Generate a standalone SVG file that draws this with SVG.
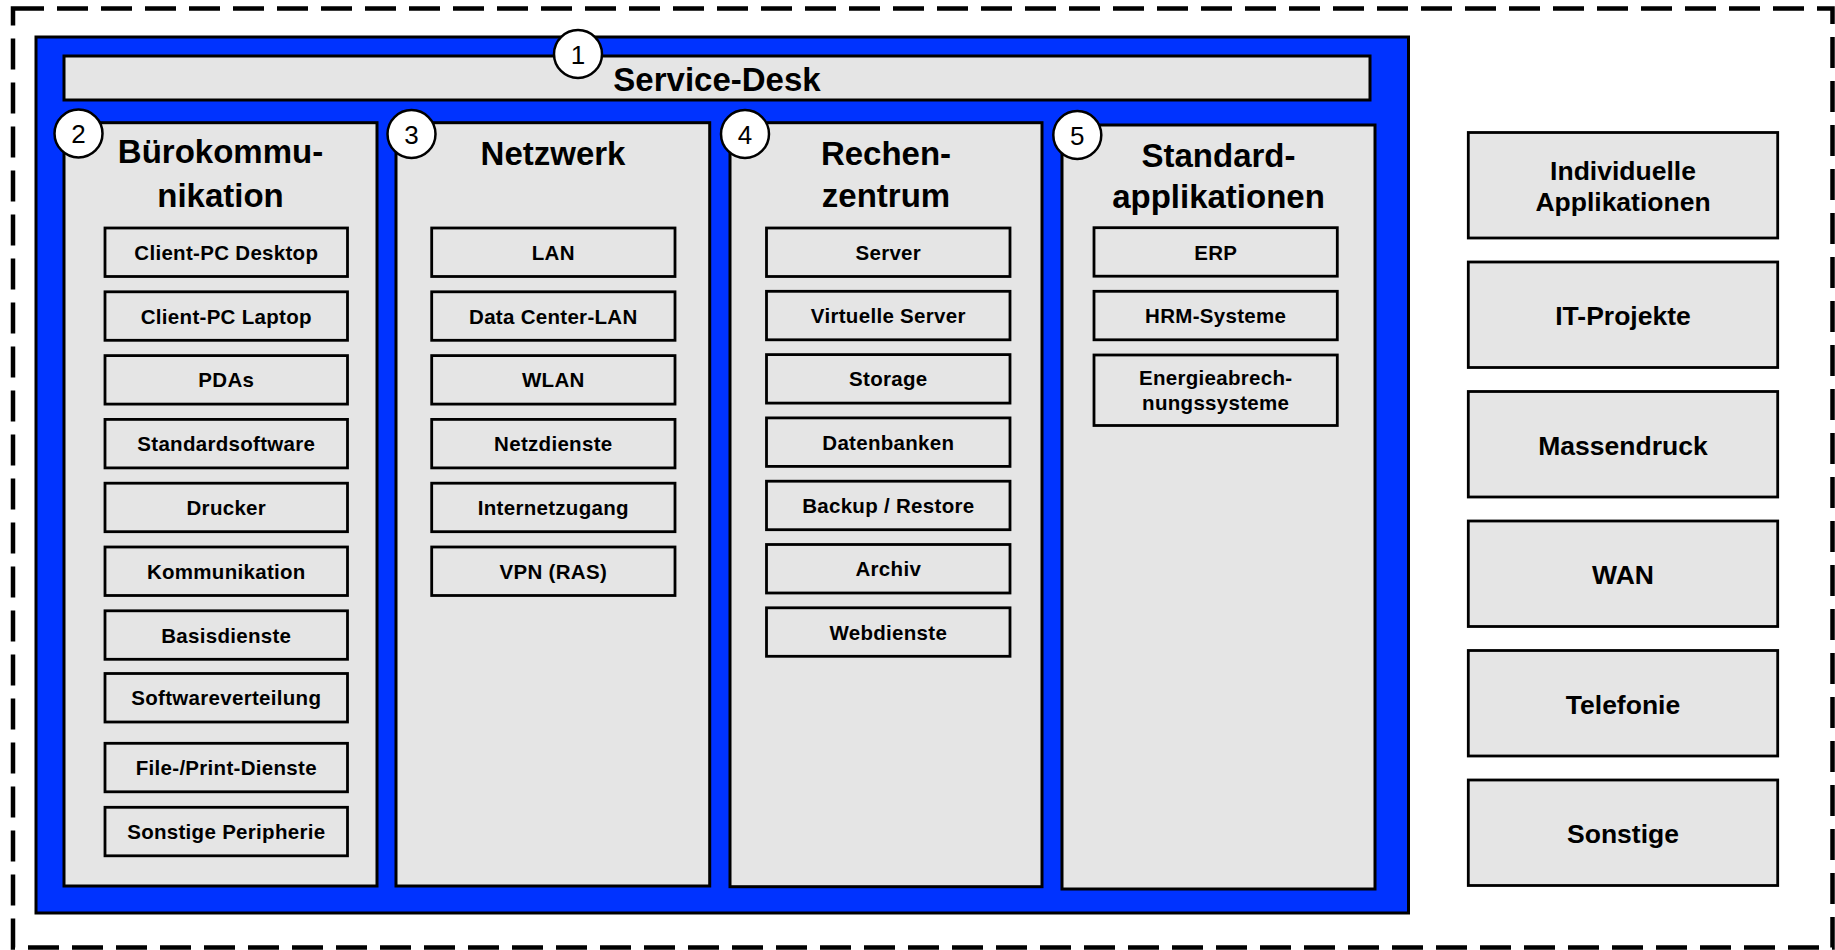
<svg xmlns="http://www.w3.org/2000/svg" width="1835" height="950" viewBox="0 0 1835 950">
  <style>
    .frame { fill: none; stroke: #000; stroke-width: 4.5; stroke-dasharray: 31 13; }
    .core { fill: #0033ff; stroke: #000; stroke-width: 3; }
    .panel { fill: #e5e5e5; stroke: #000; stroke-width: 3; }
    .item { fill: #e5e5e5; stroke: #000; stroke-width: 2.8; }
    .badge { fill: #fff; stroke: #000; stroke-width: 2.5; }
    text { font-family: "Liberation Sans", Arial, Helvetica, sans-serif; fill: #000; text-anchor: middle; }
    .title { font-size: 33px; font-weight: bold; }
    .label { font-size: 20.5px; font-weight: bold; letter-spacing: 0.3px; }
    .side { font-size: 26.5px; font-weight: bold; }
    .num { font-size: 26px; }
  </style>

  <!-- outer dashed boundary -->
  <rect id="boundary" class="frame" x="13" y="8.5" width="1819.5" height="939"/>

  <!-- blue core area -->
  <rect id="core" class="core" x="36" y="37" width="1372.5" height="876"/>

  <!-- 1: Service-Desk -->
  <g id="service-desk">
    <rect class="panel" x="64" y="56" width="1306" height="44"/>
    <text class="title" x="717" y="90.5">Service-Desk</text>
    <circle class="badge" cx="578" cy="54" r="24"/>
    <text class="num" x="578" y="63.5">1</text>
  </g>

  <!-- 2: Bürokommunikation -->
  <g id="buerokommunikation">
    <rect class="panel" x="64" y="122.7" width="313" height="763.3"/>
    <text class="title" x="220.5" y="163">Bürokommu-</text>
    <text class="title" x="220.5" y="206.7">nikation</text>
    <circle class="badge" cx="78.5" cy="133.5" r="24"/>
    <text class="num" x="78.5" y="143">2</text>
    <g id="bk-items">
      <rect class="item" x="105" y="228" width="242.5" height="48.5"/>
      <text class="label" x="226.3" y="259.8">Client-PC Desktop</text>
      <rect class="item" x="105" y="291.8" width="242.5" height="48.5"/>
      <text class="label" x="226.3" y="323.6">Client-PC Laptop</text>
      <rect class="item" x="105" y="355.6" width="242.5" height="48.5"/>
      <text class="label" x="226.3" y="387.4">PDAs</text>
      <rect class="item" x="105" y="419.4" width="242.5" height="48.5"/>
      <text class="label" x="226.3" y="451.2">Standardsoftware</text>
      <rect class="item" x="105" y="483.2" width="242.5" height="48.5"/>
      <text class="label" x="226.3" y="515">Drucker</text>
      <rect class="item" x="105" y="547" width="242.5" height="48.5"/>
      <text class="label" x="226.3" y="578.8">Kommunikation</text>
      <rect class="item" x="105" y="610.8" width="242.5" height="48.5"/>
      <text class="label" x="226.3" y="642.6">Basisdienste</text>
      <rect class="item" x="105" y="673.5" width="242.5" height="48.5"/>
      <text class="label" x="226.3" y="705.3">Softwareverteilung</text>
      <rect class="item" x="105" y="743.3" width="242.5" height="48.5"/>
      <text class="label" x="226.3" y="775.1">File-/Print-Dienste</text>
      <rect class="item" x="105" y="807.3" width="242.5" height="48.5"/>
      <text class="label" x="226.3" y="839.1">Sonstige Peripherie</text>
    </g>
  </g>

  <!-- 3: Netzwerk -->
  <g id="netzwerk">
    <rect class="panel" x="396" y="122.7" width="313.7" height="763.3"/>
    <text class="title" x="553" y="165">Netzwerk</text>
    <circle class="badge" cx="411.5" cy="134" r="24"/>
    <text class="num" x="411.5" y="143.5">3</text>
    <g id="nw-items">
      <rect class="item" x="431.7" y="228" width="243.3" height="48.5"/>
      <text class="label" x="553.3" y="259.8">LAN</text>
      <rect class="item" x="431.7" y="291.8" width="243.3" height="48.5"/>
      <text class="label" x="553.3" y="323.6">Data Center-LAN</text>
      <rect class="item" x="431.7" y="355.6" width="243.3" height="48.5"/>
      <text class="label" x="553.3" y="387.4">WLAN</text>
      <rect class="item" x="431.7" y="419.4" width="243.3" height="48.5"/>
      <text class="label" x="553.3" y="451.2">Netzdienste</text>
      <rect class="item" x="431.7" y="483.2" width="243.3" height="48.5"/>
      <text class="label" x="553.3" y="515">Internetzugang</text>
      <rect class="item" x="431.7" y="547" width="243.3" height="48.5"/>
      <text class="label" x="553.3" y="578.8">VPN (RAS)</text>
    </g>
  </g>

  <!-- 4: Rechenzentrum -->
  <g id="rechenzentrum">
    <rect class="panel" x="730" y="122.7" width="312" height="764"/>
    <text class="title" x="886" y="165">Rechen-</text>
    <text class="title" x="886" y="206.7">zentrum</text>
    <circle class="badge" cx="745" cy="134" r="24"/>
    <text class="num" x="745" y="143.5">4</text>
    <g id="rz-items">
      <rect class="item" x="766.5" y="228" width="243.5" height="48.5"/>
      <text class="label" x="888.3" y="259.8">Server</text>
      <rect class="item" x="766.5" y="291.3" width="243.5" height="48.5"/>
      <text class="label" x="888.3" y="323.1">Virtuelle Server</text>
      <rect class="item" x="766.5" y="354.6" width="243.5" height="48.5"/>
      <text class="label" x="888.3" y="386.4">Storage</text>
      <rect class="item" x="766.5" y="417.9" width="243.5" height="48.5"/>
      <text class="label" x="888.3" y="449.7">Datenbanken</text>
      <rect class="item" x="766.5" y="481.2" width="243.5" height="48.5"/>
      <text class="label" x="888.3" y="513">Backup / Restore</text>
      <rect class="item" x="766.5" y="544.5" width="243.5" height="48.5"/>
      <text class="label" x="888.3" y="576.3">Archiv</text>
      <rect class="item" x="766.5" y="607.8" width="243.5" height="48.5"/>
      <text class="label" x="888.3" y="639.6">Webdienste</text>
    </g>
  </g>

  <!-- 5: Standardapplikationen -->
  <g id="standardapplikationen">
    <rect class="panel" x="1062" y="125" width="313" height="764"/>
    <text class="title" x="1218.5" y="166.7">Standard-</text>
    <text class="title" x="1218.5" y="208">applikationen</text>
    <circle class="badge" cx="1077.3" cy="135" r="24"/>
    <text class="num" x="1077.3" y="144.5">5</text>
    <g id="sa-items">
      <rect class="item" x="1094" y="227.7" width="243.3" height="48.5"/>
      <text class="label" x="1215.7" y="259.5">ERP</text>
      <rect class="item" x="1094" y="291.3" width="243.3" height="48.5"/>
      <text class="label" x="1215.7" y="323.1">HRM-Systeme</text>
      <rect class="item" x="1094" y="355" width="243.3" height="70.5"/>
      <text class="label" x="1215.7" y="385">Energieabrech-</text>
      <text class="label" x="1215.7" y="410">nungssysteme</text>
    </g>
  </g>

  <!-- services outside the core -->
  <g id="individuelle-applikationen">
    <rect class="item" x="1468.3" y="132.5" width="309.4" height="105.5"/>
    <text class="side" x="1623" y="180">Individuelle</text>
    <text class="side" x="1623" y="210.7">Applikationen</text>
  </g>
  <g id="it-projekte">
    <rect class="item" x="1468.3" y="262" width="309.4" height="105.5"/>
    <text class="side" x="1623" y="325">IT-Projekte</text>
  </g>
  <g id="massendruck">
    <rect class="item" x="1468.3" y="391.5" width="309.4" height="105.5"/>
    <text class="side" x="1623" y="454.5">Massendruck</text>
  </g>
  <g id="wan">
    <rect class="item" x="1468.3" y="521" width="309.4" height="105.5"/>
    <text class="side" x="1623" y="584">WAN</text>
  </g>
  <g id="telefonie">
    <rect class="item" x="1468.3" y="650.5" width="309.4" height="105.5"/>
    <text class="side" x="1623" y="713.5">Telefonie</text>
  </g>
  <g id="sonstige">
    <rect class="item" x="1468.3" y="780" width="309.4" height="105.5"/>
    <text class="side" x="1623" y="843">Sonstige</text>
  </g>
</svg>
